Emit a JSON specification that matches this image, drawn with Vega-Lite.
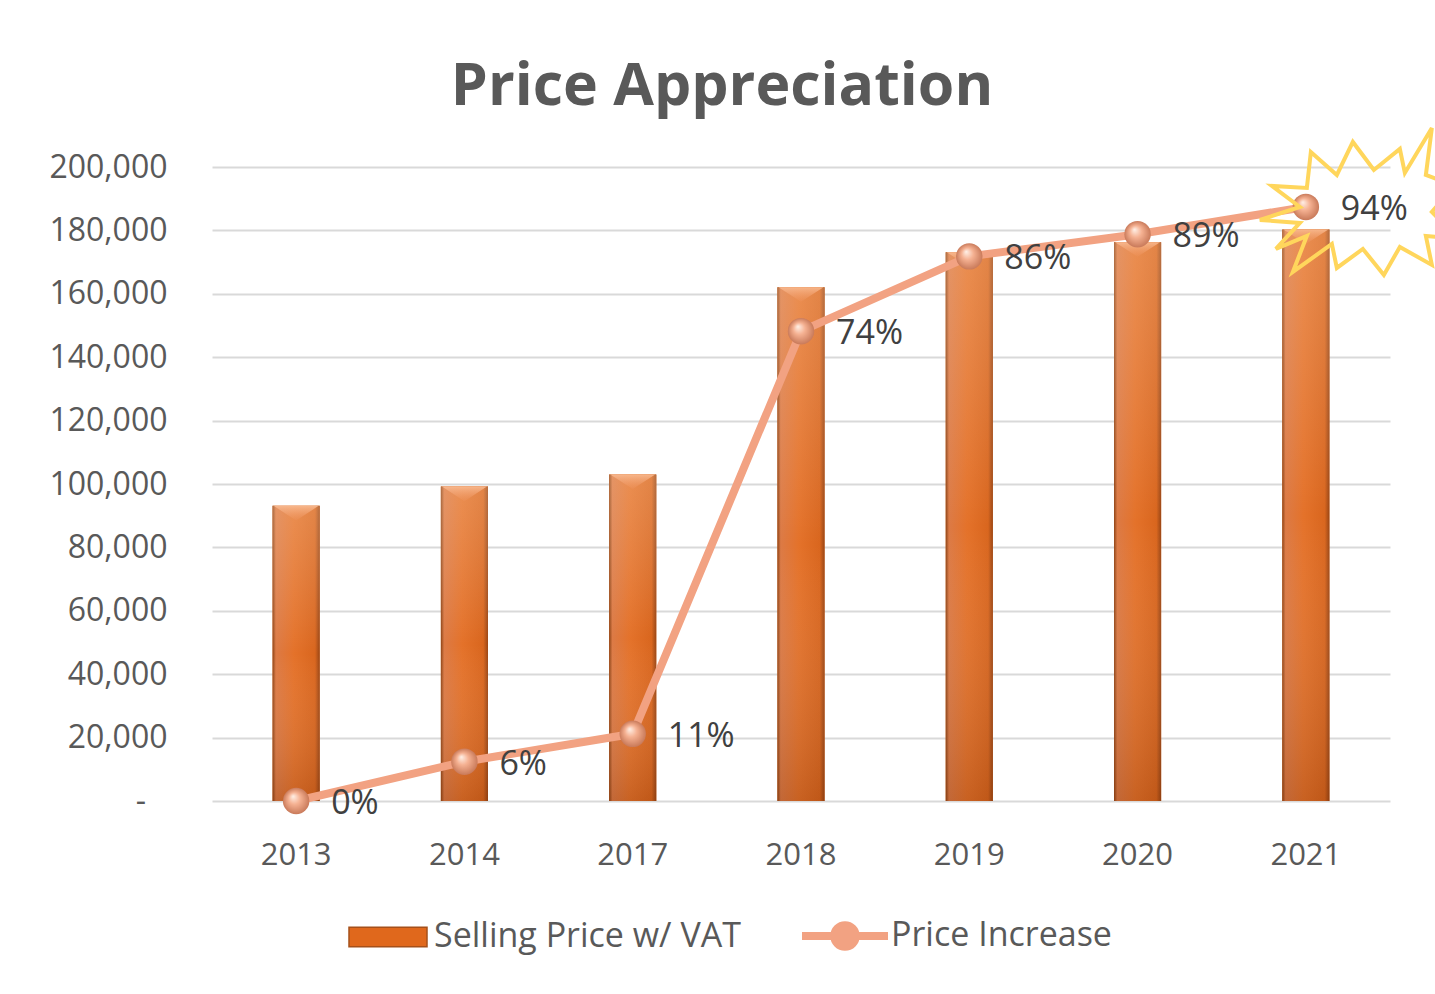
{
  "$schema": "https://vega.github.io/schema/vega-lite/v6.json",
  "width": 1178,
  "height": 634,
  "autosize": {"type": "none"},
  "padding": {"left": 212, "top": 167, "right": 45, "bottom": 193},
  "background": "white",
  "config": {"view": {"stroke": null}, "font": "Open Sans"},
  "title": {
    "text": "Price Appreciation",
    "font": "Open Sans",
    "fontSize": 59,
    "fontWeight": "bold",
    "color": "#595959",
    "anchor": "middle",
    "frame": "group",
    "dx": -79,
    "offset": -44,
    "baseline": "alphabetic"
  },
  "data": {
    "values": [
      {"year": "2013", "price": 93100, "pct": 0},
      {"year": "2014", "price": 99200, "pct": 0.062},
      {"year": "2017", "price": 103000, "pct": 0.106},
      {"year": "2018", "price": 162100, "pct": 0.741},
      {"year": "2019", "price": 173100, "pct": 0.859},
      {"year": "2020", "price": 176300, "pct": 0.894},
      {"year": "2021", "price": 180300, "pct": 0.937}
    ]
  },
  "encoding": {
    "x": {
      "field": "year",
      "type": "ordinal",
      "scale": {"paddingInner": 0.72, "paddingOuter": 0.36},
      "axis": {
        "title": null,
        "labelAngle": 0,
        "ticks": false,
        "domain": false,
        "labelPadding": 39,
        "labelFont": "Open Sans",
        "labelFontSize": 31,
        "labelColor": "#595959"
      }
    }
  },
  "layer": [
    {
      "mark": {"type": "bar"},
      "encoding": {
        "y": {
          "field": "price",
          "type": "quantitative",
          "scale": {"domain": [0, 200000], "nice": false},
          "axis": {
            "title": null,
            "values": [0, 20000, 40000, 60000, 80000, 100000, 120000, 140000, 160000, 180000, 200000],
            "labelExpr": "datum.value == 0 ? '-\u2007\u200a\u200b' : format(datum.value, ',')",
            "grid": true,
            "gridColor": "#d9d9d9",
            "gridWidth": 2,
            "ticks": false,
            "domain": false,
            "labelPadding": 45,
            "labelFont": "Open Sans",
            "labelFontSize": 32,
            "labelColor": "#595959"
          }
        },
        "fill": {
          "datum": "Selling Price w/ VAT",
          "scale": {"range": ["#e0681c"]},
          "legend": {
            "title": null,
            "orient": "none",
            "legendX": 136,
            "legendY": 730,
            "direction": "horizontal",
            "symbolType": "M-1,-0.25L1,-0.25L1,0.25L-1,0.25Z",
            "symbolSize": 6084,
            "symbolStrokeColor": "#a5501a",
            "symbolStrokeWidth": 1.5,
            "symbolOpacity": 1,
            "labelFont": "Open Sans",
            "labelFontSize": 34,
            "labelColor": "#595959",
            "labelOffset": 6,
            "padding": 0,
            "labelLimit": 600
          }
        }
      }
    },
    {
      "mark": {
        "type": "bar",
        "fill": {
          "gradient": "linear", "x1": 0, "y1": 0, "x2": 1, "y2": 0,
          "stops": [
            {"offset": 0, "color": "#8f4416"},
            {"offset": 0.07, "color": "#dc7a45"},
            {"offset": 0.45, "color": "#e4722a"},
            {"offset": 0.9, "color": "#d9661e"},
            {"offset": 1, "color": "#9a4615"}
          ]
        }
      },
      "encoding": {
        "y": {"field": "price", "type": "quantitative", "scale": {"domain": [0, 200000], "nice": false}, "axis": null}
      }
    },
    {
      "mark": {
        "type": "bar",
        "fill": {
          "gradient": "linear", "x1": 0, "y1": 0, "x2": 0, "y2": 1,
          "stops": [
            {"offset": 0, "color": "rgba(255,225,195,0.25)"},
            {"offset": 0.5, "color": "rgba(255,255,255,0)"},
            {"offset": 1, "color": "rgba(90,30,0,0.2)"}
          ]
        }
      },
      "encoding": {
        "y": {"field": "price", "type": "quantitative", "scale": {"domain": [0, 200000], "nice": false}, "axis": null}
      }
    },
    {
      "mark": {
        "type": "point",
        "filled": true,
        "opacity": 1,
        "size": 2025,
        "shape": "M-1,0L1,0L0,0.65Z",
        "fill": {
          "gradient": "linear", "x1": 0, "y1": 0, "x2": 0, "y2": 1,
          "stops": [
            {"offset": 0, "color": "rgba(250,190,150,0.85)"},
            {"offset": 1, "color": "rgba(240,150,100,0.2)"}
          ]
        }
      },
      "encoding": {
        "y": {"field": "price", "type": "quantitative", "scale": {"domain": [0, 200000], "nice": false}, "axis": null}
      }
    },
    {
      "mark": {"type": "line", "strokeWidth": 8, "opacity": 1},
      "encoding": {
        "y": {"field": "pct", "type": "quantitative", "scale": {"domain": [0, 1], "nice": false}, "axis": null},
        "stroke": {
          "datum": "Price Increase",
          "scale": {"range": ["#f2a282"]},
          "legend": {
            "title": null,
            "orient": "none",
            "legendX": 586,
            "legendY": 722,
            "direction": "horizontal",
            "symbolType": "M-1,0L1,0M-0.09,0A0.09,0.09 0 1,0 0.09,0A0.09,0.09 0 1,0 -0.09,0M-0.17,0A0.17,0.17 0 1,0 0.17,0A0.17,0.17 0 1,0 -0.17,0M-0.25,0A0.25,0.25 0 1,0 0.25,0A0.25,0.25 0 1,0 -0.25,0",
            "symbolSize": 7396,
            "symbolStrokeWidth": 8,
            "symbolFillColor": "#f2a282",
            "symbolOpacity": 1,
            "labelFont": "Open Sans",
            "labelFontSize": 34,
            "labelColor": "#595959",
            "labelOffset": -1,
            "padding": 0,
            "labelLimit": 600
          }
        }
      }
    },
    {
      "mark": {
        "type": "point",
        "filled": true,
        "size": 700,
        "opacity": 1,
        "fill": {
          "gradient": "radial", "x1": 0.38, "y1": 0.32, "r1": 0, "x2": 0.5, "y2": 0.5, "r2": 0.5,
          "stops": [
            {"offset": 0, "color": "#fff1e8"},
            {"offset": 0.45, "color": "#f5b192"},
            {"offset": 1, "color": "#c97a5a"}
          ]
        }
      },
      "encoding": {
        "y": {"field": "pct", "type": "quantitative", "scale": {"domain": [0, 1], "nice": false}, "axis": null}
      }
    },
    {
      "transform": [{"filter": "datum.year == '2021'"}],
      "mark": {
        "type": "point",
        "filled": false,
        "opacity": 1,
        "fill": "transparent",
        "stroke": "#ffd65c",
        "strokeWidth": 4,
        "size": 40000,
        "xOffset": 52,
        "yOffset": 0,
        "shape": "M-0.98,0.13L-0.58,0L-0.86,-0.21L-0.51,-0.19L-0.47,-0.55L-0.21,-0.32L-0.05,-0.65L0.16,-0.37L0.42,-0.58L0.47,-0.34L0.74,-0.79L0.68,-0.32L0.97,-0.21L0.74,0.05L1,0.32L0.68,0.29L0.74,0.58L0.42,0.4L0.26,0.68L0.05,0.42L-0.21,0.61L-0.26,0.37L-0.65,0.65L-0.51,0.29L-0.82,0.42L-0.58,0.16Z"
      },
      "encoding": {
        "y": {"field": "pct", "type": "quantitative", "scale": {"domain": [0, 1], "nice": false}, "axis": null}
      }
    },
    {
      "mark": {
        "type": "text",
        "align": "left",
        "baseline": "middle",
        "dx": 35,
        "dy": 3,
        "font": "Open Sans",
        "fontSize": 34,
        "color": "#404040"
      },
      "encoding": {
        "y": {"field": "pct", "type": "quantitative", "scale": {"domain": [0, 1], "nice": false}, "axis": null},
        "text": {"field": "pct", "type": "quantitative", "format": ".0%"}
      }
    }
  ],
  "resolve": {"scale": {"y": "independent"}}
}
